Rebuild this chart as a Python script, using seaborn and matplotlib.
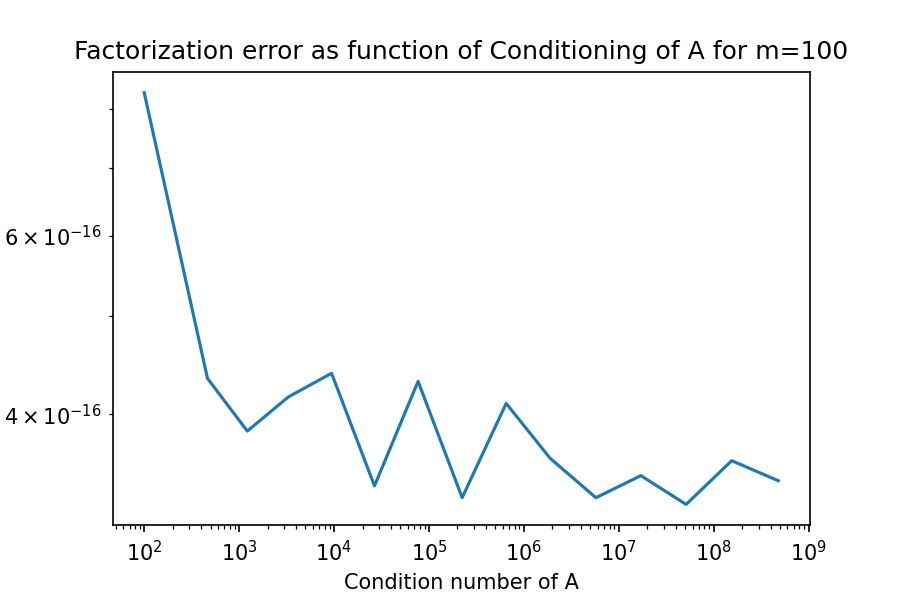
import seaborn as sns
import pandas as pd
import matplotlib
matplotlib.use('Agg')
import matplotlib.pyplot as plt

# condition numbers of A and the measured factorization error
cond_numbers = [1.0e2, 4.64e2, 1.22e3, 3.30e3, 9.42e3, 2.67e4, 7.69e4, 2.24e5,
                6.52e5, 1.89e6, 5.75e6, 1.71e7, 5.13e7, 1.55e8, 4.80e8]
errors = [8.30e-16, 4.34e-16, 3.85e-16, 4.16e-16, 4.39e-16, 3.40e-16, 4.31e-16, 3.31e-16,
          4.10e-16, 3.62e-16, 3.31e-16, 3.48e-16, 3.26e-16, 3.60e-16, 3.44e-16]

dataframe = pd.DataFrame({'cond': cond_numbers, 'error': errors})

fig, ax = plt.subplots(figsize=(6, 4), dpi=150)
fig.subplots_adjust(left=0.125, right=0.9, top=0.88, bottom=0.125)

sns.lineplot(x='cond', y='error', data=dataframe, ax=ax, color='#1f77b4', linewidth=1.5)

ax.set_xscale('log')
ax.set_yscale('log')

# labels and title
ax.set_xlabel('Condition number of A')
ax.set_ylabel('')
ax.set_title('Factorization error as function of Conditioning of A for m=100')

fig.savefig('out.png', dpi=150)
